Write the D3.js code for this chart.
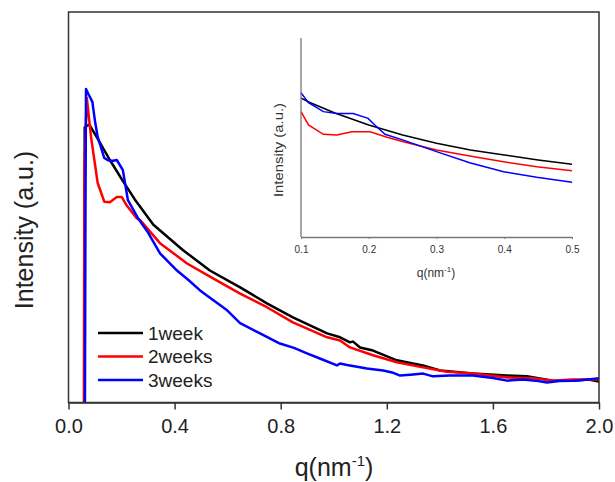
<!DOCTYPE html>
<html>
<head>
<meta charset="utf-8">
<script src="https://cdn.jsdelivr.net/npm/d3@7"></script>
<style>
  body { margin: 0; background: #fff; }
  svg { display: block; font-family: "Liberation Sans", Arial, sans-serif; }
</style>
</head>
<body>
<svg id="chart" width="615" height="482"></svg>
<script>
// main plot data, q in nm^-1, intensity in arbitrary units
const week1 = [
  [0.060, 0], [0.061, 70.5], [0.078, 71.2], [0.106, 68.0], [0.156, 62.1],
  [0.207, 56.5], [0.250, 52.0], [0.320, 45.5], [0.432, 39.0], [0.533, 33.8],
  [0.647, 29.5], [0.748, 25.4], [0.846, 21.8], [0.975, 17.7], [1.024, 16.7],
  [1.061, 15.4], [1.073, 15.6], [1.099, 14.1], [1.148, 13.3], [1.238, 10.8],
  [1.336, 9.5], [1.401, 8.2], [1.525, 7.4], [1.653, 6.9], [1.728, 6.7],
  [1.826, 5.6], [1.902, 5.6], [1.96, 5.9], [2.0, 5.4]
];
const week2 = [
  [0.058, 0], [0.060, 60], [0.069, 78.0], [0.085, 68], [0.110, 56.2],
  [0.135, 51.4], [0.156, 51.3], [0.182, 52.6], [0.201, 52.6], [0.219, 50.5],
  [0.257, 47.2], [0.270, 46.7], [0.345, 40.8], [0.447, 35.6], [0.545, 31.8],
  [0.647, 27.9], [0.748, 24.4], [0.846, 20.5], [0.975, 16.7], [1.024, 15.9],
  [1.061, 14.1], [1.148, 12.1], [1.238, 10.3], [1.336, 9.0], [1.427, 7.9],
  [1.525, 7.4], [1.653, 6.4], [1.751, 6.2], [1.826, 5.6], [1.90, 5.9], [2.0, 5.9]
];
const week3 = [
  [0.062, 0], [0.064, 50], [0.066, 80.3], [0.075, 79.0], [0.090, 77.0],
  [0.100, 72.0], [0.110, 68.0], [0.135, 62.6], [0.150, 62.0], [0.168, 61.9],
  [0.182, 62.1], [0.205, 59.5], [0.224, 51.8], [0.262, 47.2], [0.300, 43.5],
  [0.345, 38.2], [0.409, 33.8], [0.450, 31.5], [0.496, 28.7], [0.550, 26.0],
  [0.598, 23.6], [0.647, 20.3], [0.722, 17.7], [0.797, 15.1], [0.850, 14.0],
  [0.899, 12.6], [0.950, 11.2], [1.012, 9.5], [1.024, 10.0], [1.050, 9.6],
  [1.099, 9.0], [1.125, 8.7], [1.186, 8.2], [1.220, 7.7], [1.250, 6.9],
  [1.300, 7.2], [1.337, 7.4], [1.374, 6.7], [1.438, 6.9], [1.525, 6.9],
  [1.600, 6.3], [1.653, 5.6], [1.713, 5.9], [1.760, 5.6], [1.804, 5.1],
  [1.850, 5.5], [1.902, 5.6], [1.950, 5.8], [2.0, 6.2]
];

// inset data (0.1 - 0.5 nm^-1)
const inset1 = [
  [0.100, 69.8], [0.113, 67.6], [0.150, 62.3], [0.200, 56.3], [0.250, 51.3],
  [0.300, 47.1], [0.350, 43.7], [0.400, 41.2], [0.450, 38.7], [0.500, 36.5]
];
const inset2 = [
  [0.100, 63.0], [0.111, 56.3], [0.133, 51.6], [0.153, 51.3], [0.175, 52.9],
  [0.202, 52.9], [0.227, 50.1], [0.251, 47.9], [0.300, 43.7], [0.349, 40.7],
  [0.399, 37.8], [0.448, 35.3], [0.500, 33.3]
];
const inset3 = [
  [0.100, 72.5], [0.111, 67.5], [0.133, 63.0], [0.153, 62.1], [0.177, 62.1],
  [0.199, 59.6], [0.209, 56.3], [0.224, 51.6], [0.251, 48.7], [0.300, 42.9],
  [0.349, 37.3], [0.399, 32.8], [0.448, 30.0], [0.500, 27.5]
];

const seriesNames = ["1week", "2weeks", "3weeks"];
const colors = ["#000000", "#ff0000", "#0000ff"];
const mainTicks = [0.0, 0.4, 0.8, 1.2, 1.6, 2.0];
const insetTicks = [0.1, 0.2, 0.3, 0.4, 0.5];

const svg = d3.select("#chart");

// main plot
const m = { left: 68.5, right: 599, top: 12, bottom: 402.5 };
const x = d3.scaleLinear().domain([0, 2]).range([m.left, m.right]);
const y = d3.scaleLinear().domain([0, 100]).range([m.bottom, m.top]);

svg.append("defs").append("clipPath").attr("id", "clip")
  .append("rect")
  .attr("x", m.left).attr("y", m.top)
  .attr("width", m.right - m.left).attr("height", m.bottom - m.top);

const line = d3.line().x(d => x(d[0])).y(d => y(d[1]));

const plot = svg.append("g").attr("clip-path", "url(#clip)");
[week1, week2, week3].forEach((s, i) => {
  plot.append("path")
    .datum(s)
    .attr("d", line)
    .attr("fill", "none")
    .attr("stroke", colors[i])
    .attr("stroke-width", 2.5)
    .attr("stroke-linejoin", "round");
});

// frame
svg.append("rect")
  .attr("x", m.left).attr("y", m.top)
  .attr("width", m.right - m.left).attr("height", m.bottom - m.top)
  .attr("fill", "none").attr("stroke", "#333").attr("stroke-width", 1.5);

const xAxis = svg.append("g")
  .attr("transform", `translate(0,${m.bottom})`)
  .call(d3.axisBottom(x).tickValues(mainTicks).tickFormat(d3.format(".1f")).tickSize(7).tickSizeOuter(0).tickPadding(9));
xAxis.select(".domain").attr("stroke", "#333").attr("stroke-width", 1.5);
xAxis.selectAll(".tick line").attr("stroke", "#333").attr("stroke-width", 1.5);
xAxis.selectAll(".tick text").attr("font-size", 20).attr("fill", "#222")
  .attr("font-family", "Liberation Sans, Arial, sans-serif");

// axis titles
const xt = svg.append("text")
  .attr("x", 334).attr("y", 476)
  .attr("text-anchor", "middle")
  .attr("font-size", 25).attr("fill", "#222");
xt.append("tspan").text("q(nm");
xt.append("tspan").attr("dy", -10).attr("font-size", 15).text("-1");
xt.append("tspan").attr("dy", 10).text(")");

svg.append("text")
  .attr("transform", "translate(33,230) rotate(-90)")
  .attr("text-anchor", "middle")
  .attr("font-size", 25).attr("fill", "#222")
  .text("Intensity (a.u.)");

// legend
const legend = svg.append("g").attr("transform", "translate(98,333)");
seriesNames.forEach((name, i) => {
  const row = legend.append("g").attr("transform", `translate(0,${i * 23.5})`);
  row.append("line").attr("x1", 0).attr("x2", 45).attr("y1", 0).attr("y2", 0)
    .attr("stroke", colors[i]).attr("stroke-width", 2.5);
  row.append("text").attr("x", 50).attr("y", 0).attr("dy", "0.36em")
    .attr("font-size", 19).attr("fill", "#222").text(name);
});

// inset
const n = { left: 301, right: 572, top: 38, bottom: 237 };
const xi = d3.scaleLinear().domain([0.1, 0.5]).range([n.left, n.right]);
const yi = d3.scaleLinear().domain([0, 100]).range([n.bottom, n.top]);
const lineI = d3.line().x(d => xi(d[0])).y(d => yi(d[1]));

[inset1, inset2, inset3].forEach((s, i) => {
  svg.append("path")
    .datum(s)
    .attr("d", lineI)
    .attr("fill", "none")
    .attr("stroke", colors[i])
    .attr("stroke-width", 1.5);
});

svg.append("line")
  .attr("x1", n.left).attr("x2", n.left).attr("y1", n.top).attr("y2", n.bottom)
  .attr("stroke", "#777").attr("stroke-width", 1.3);

const xiAxis = svg.append("g")
  .attr("transform", `translate(0,${n.bottom})`)
  .call(d3.axisBottom(xi).tickValues(insetTicks).tickFormat(d3.format(".1f")).tickSize(2).tickSizeOuter(0).tickPadding(7));
xiAxis.select(".domain").attr("stroke", "#777").attr("stroke-width", 1.3);
xiAxis.selectAll(".tick line").attr("stroke", "#777");
xiAxis.selectAll(".tick text").attr("font-size", 10).attr("fill", "#333")
  .attr("font-family", "Liberation Sans, Arial, sans-serif");

const xti = svg.append("text")
  .attr("x", 436).attr("y", 277)
  .attr("text-anchor", "middle")
  .attr("font-size", 12).attr("fill", "#333");
xti.append("tspan").text("q(nm");
xti.append("tspan").attr("dy", -5).attr("font-size", 8).text("-1");
xti.append("tspan").attr("dy", 5).text(")");

svg.append("text")
  .attr("transform", "translate(283,150) rotate(-90)")
  .attr("text-anchor", "middle")
  .attr("font-size", 12.5).attr("fill", "#333")
  .attr("textLength", 94).attr("lengthAdjust", "spacingAndGlyphs")
  .text("Intensity (a.u.)");
</script>
</body>
</html>
